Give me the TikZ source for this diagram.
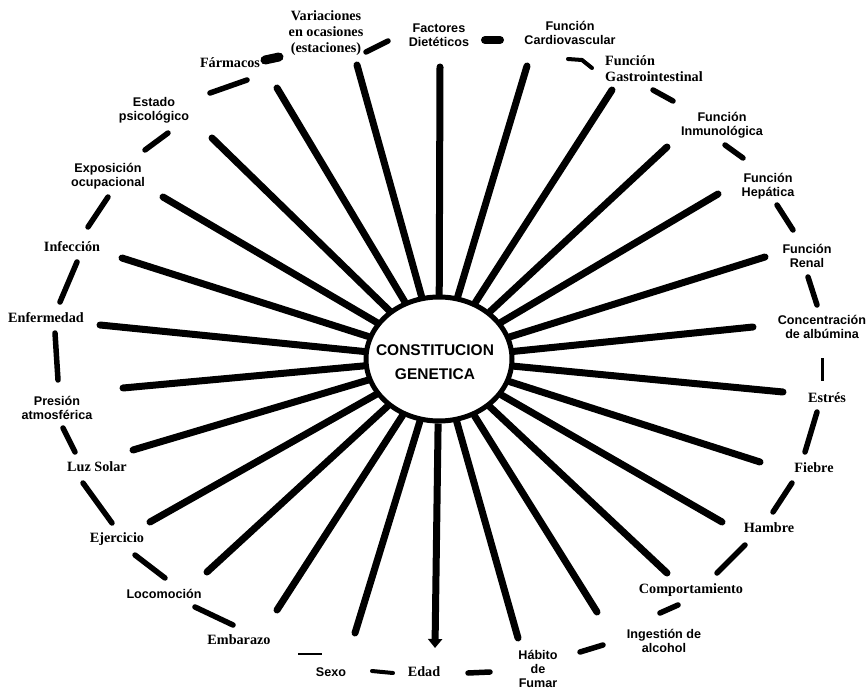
\documentclass[tikz,border=0pt]{standalone}
\usepackage{fontspec}
\setmainfont{Liberation Serif}
\setsansfont{Liberation Sans}
\usetikzlibrary{shapes.geometric,arrows.meta}
\begin{document}
\begin{tikzpicture}[x=1pt,y=-1pt,
  spoke/.style={line width=7pt,line cap=round},
  ringseg/.style={line width=5.5pt,line cap=round},
  serlab/.style={font=\bfseries\fontsize{14.2}{16}\selectfont,align=center,inner sep=0pt},
  sanlab/.style={font=\sffamily\bfseries\fontsize{12.6}{14}\selectfont,align=center,inner sep=0pt},
  corestyle/.style={ellipse,draw,line width=5pt,fill=white,minimum width=146pt,minimum height=124pt,inner sep=0pt},
  coretitle/.style={font=\sffamily\bfseries\fontsize{15.5}{24}\selectfont,align=center,inner sep=0pt}]
\useasboundingbox[fill=white] (0,0) rectangle (868,690);

% labels
\node[serlab] (lvar) at (326,33) {Variaciones\\en ocasiones\\(estaciones)};
\node[sanlab] (lfac) at (439,35) {Factores\\Dietéticos};
\node[sanlab] (lcar) at (570,33) {Función\\Cardiovascular};
\node[serlab,align=left] (lgas) at (654,69) {Función\\Gastrointestinal};
\node[sanlab] (linm) at (722,125) {Función\\Inmunológica};
\node[sanlab] (lhep) at (768,186) {Función\\Hepática};
\node[sanlab] (lren) at (807,256) {Función\\Renal};
\node[sanlab] (lcon) at (822,327) {Concentración\\de albúmina};
\node[serlab] (lest) at (827,398) {Estrés};
\node[serlab] (lfie) at (814,468) {Fiebre};
\node[serlab] (lham) at (769,528) {Hambre};
\node[serlab] (lcom) at (691,590) {Comportamiento};
\node[sanlab] (ling) at (664,641) {Ingestión de\\alcohol};
\node[sanlab] (lhab) at (538,669) {Hábito\\de\\Fumar};
\node[serlab] (leda) at (424,672) {Edad};
\node[sanlab] (lsex) at (331,672) {Sexo};
\node[serlab] (lemb) at (239,640) {Embarazo};
\node[sanlab] (lloc) at (164,594) {Locomoción};
\node[serlab] (leje) at (117,539) {Ejercicio};
\node[serlab] (lluz) at (97,467) {Luz Solar};
\node[sanlab] (lpre) at (57,408) {Presión\\atmosférica};
\node[serlab] (lenf) at (46,318) {Enfermedad};
\node[serlab] (linf) at (72,247) {Infección};
\node[sanlab] (lexp) at (108,176) {Exposición\\ocupacional};
\node[sanlab] (lpsi) at (154,110) {Estado\\psicológico};
\node[serlab] (lfar) at (230,63) {Fármacos};

% spoke outer ends
\coordinate (svar) at (357,65);
\coordinate (sfac) at (440,67);
\coordinate (scar) at (527,66);
\coordinate (sgas) at (612,90);
\coordinate (sinm) at (667,147);
\coordinate (shep) at (718,194);
\coordinate (sren) at (765,257);
\coordinate (scon) at (753,327);
\coordinate (sest) at (783,392);
\coordinate (sfie) at (760,462);
\coordinate (sham) at (722,522);
\coordinate (scom) at (667,573);
\coordinate (sing) at (597,612);
\coordinate (shab) at (518,638);
\coordinate (seda) at (435,648);
\coordinate (ssex) at (355,633);
\coordinate (semb) at (277,610);
\coordinate (sloc) at (207,572);
\coordinate (seje) at (150,522);
\coordinate (sluz) at (133,450);
\coordinate (spre) at (123,388);
\coordinate (senf) at (100,325);
\coordinate (sinf) at (122,258);
\coordinate (sexp) at (163,197);
\coordinate (spsi) at (212,138);
\coordinate (sfar) at (277,88);

% centre
\node[corestyle] (core) at (439,359) {};

\foreach \p in {svar,sfac,scar,sgas,sinm,shep,sren,scon,sest,sfie,sham,scom,sing,shab,ssex,semb,sloc,seje,sluz,spre,senf,sinf,sexp,spsi,sfar}
  \draw[spoke] (core) -- (\p);
\draw[line width=7pt,-{Triangle[width=14pt,length=9pt]}] (core) -- (seda);

\node[coretitle] (ctext) at (435,362) {CONSTITUCION\\GENETICA};

% ring segments
\coordinate (r1a) at (210,93);  \coordinate (r1b) at (247,80);
\coordinate (r2a) at (265,60);  \coordinate (r2b) at (279,57);
\coordinate (r3a) at (366,52);  \coordinate (r3b) at (388,41);
\coordinate (r4a) at (485,40);  \coordinate (r4b) at (500,40);
\coordinate (r5a) at (568,59);  \coordinate (r5m) at (582,60); \coordinate (r5b) at (592,68);
\coordinate (r6a) at (653,90);  \coordinate (r6b) at (673,101);
\coordinate (r7a) at (725,145); \coordinate (r7b) at (743,158);
\coordinate (r8a) at (777,205); \coordinate (r8b) at (793,230);
\coordinate (r9a) at (808,277); \coordinate (r9b) at (817,305);
\coordinate (r10a) at (822,358); \coordinate (r10b) at (822,381);
\coordinate (r11a) at (817,412); \coordinate (r11b) at (805,452);
\coordinate (r12a) at (792,483); \coordinate (r12b) at (773,512);
\coordinate (r13a) at (745,545); \coordinate (r13b) at (717,573);
\coordinate (r14a) at (678,605); \coordinate (r14b) at (660,613);
\coordinate (r15a) at (603,645); \coordinate (r15b) at (580,652);
\coordinate (r16a) at (468,673); \coordinate (r16b) at (490,672);
\coordinate (r17a) at (372,671); \coordinate (r17b) at (393,673);
\coordinate (r18a) at (298,654); \coordinate (r18b) at (322,654);
\coordinate (r19a) at (195,607); \coordinate (r19b) at (233,625);
\coordinate (r20a) at (135,555); \coordinate (r20b) at (165,578);
\coordinate (r21a) at (83,483);  \coordinate (r21b) at (112,523);
\coordinate (r22a) at (63,428);  \coordinate (r22b) at (75,452);
\coordinate (r23a) at (55,333);  \coordinate (r23b) at (58,380);
\coordinate (r24a) at (60,302);  \coordinate (r24b) at (77,262);
\coordinate (r25a) at (88,227);  \coordinate (r25b) at (108,197);
\coordinate (r26a) at (145,150); \coordinate (r26b) at (168,133);

\foreach \i in {1,3,6,7,8,9,11,12,13,14,15,16,19,20,21,22,23,24,25,26}
  \draw[ringseg] (r\i a) -- (r\i b);
\draw[ringseg,line width=9pt] (r2a) -- (r2b);
\draw[ringseg,line width=8pt] (r4a) -- (r4b);
\draw[ringseg,line width=4pt] (r5a) -- (r5m) -- (r5b);
\draw[line width=3pt] (r10a) -- (r10b);
\draw[ringseg,line width=4pt] (r17a) -- (r17b);
\draw[line width=2.5pt] (r18a) -- (r18b);
\end{tikzpicture}
\end{document}
